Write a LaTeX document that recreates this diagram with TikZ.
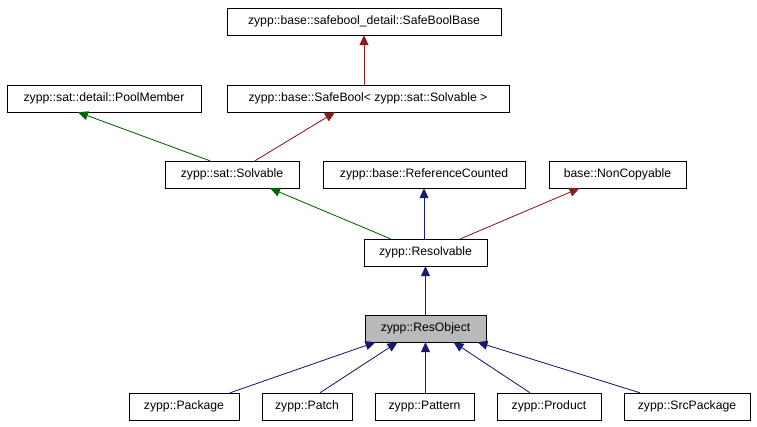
\documentclass[tikz,border=0pt]{standalone}
\usepackage{fontspec}
\setmainfont{Liberation Sans}
\usetikzlibrary{arrows.meta}
\definecolor{mb}{RGB}{25,25,112}
\definecolor{dr}{RGB}{139,26,26}
\definecolor{dg}{RGB}{0,100,0}
\begin{document}
\begin{tikzpicture}[x=1pt,y=-1pt,
 box/.style={draw,minimum height=27pt,inner sep=0pt,font=\fontsize{12.2}{14}\selectfont},
 e/.style={{Triangle[width=9pt,length=10pt]}-,line width=0.8pt},
 nb/.style={e,draw=mb,fill=mb},
 nr/.style={e,draw=dr,fill=dr},
 ng/.style={e,draw=dg,fill=dg}]
\useasboundingbox (0,0) rectangle (757,427);
\node[box,minimum width=274pt] (sbb) at (364,21.5) {zypp::base::safebool\_detail::SafeBoolBase};
\node[box,minimum width=194pt] (pm) at (104,98.5) {zypp::sat::detail::PoolMember};
\node[box,minimum width=282pt] (sb) at (368,98.5) {zypp::base::SafeBool< zypp::sat::Solvable >};
\node[box,minimum width=134pt] (so) at (232,174.5) {zypp::sat::Solvable};
\node[box,minimum width=202pt] (rc) at (424,174.5) {zypp::base::ReferenceCounted};
\node[box,minimum width=137pt] (nc) at (617.5,174.5) {base::NonCopyable};
\node[box,minimum width=123pt] (rs) at (425.5,252.5) {zypp::Resolvable};
\node[box,minimum width=121pt,fill=black!27] (ro) at (425.5,328.5) {zypp::ResObject};
\node[box,minimum width=110pt] (pk) at (184,406.5) {zypp::Package};
\node[box,minimum width=90pt] (pa) at (307,406.5) {zypp::Patch};
\node[box,minimum width=99pt] (pt) at (424.5,406.5) {zypp::Pattern};
\node[box,minimum width=104pt] (pr) at (549,406.5) {zypp::Product};
\node[box,minimum width=126pt] (sp) at (687,406.5) {zypp::SrcPackage};
\draw[nr] (sbb.south) -- (sbb.south |- sb.north);
\draw[ng] ([xshift=-26]pm.south) -- ([xshift=-22]so.north);
\draw[nr] ([xshift=-33]sb.south) -- ([xshift=23]so.north);
\draw[ng] ([xshift=38]so.south) -- ([xshift=-35]rs.north);
\draw[nb] (rc.south) -- (rc.south |- rs.north);
\draw[nr] ([xshift=-38]nc.south) -- ([xshift=35]rs.north);
\draw[nb] (rs) -- (ro);
\draw[nb] ([xshift=-50]ro.south) -- ([xshift=46]pk.north);
\draw[nb] ([xshift=-28]ro.south) -- ([xshift=13]pa.north);
\draw[nb] (ro.south) -- (ro.south |- pt.north);
\draw[nb] ([xshift=28]ro.south) -- ([xshift=-19]pr.north);
\draw[nb] ([xshift=52]ro.south) -- ([xshift=-47]sp.north);
\end{tikzpicture}
\end{document}
